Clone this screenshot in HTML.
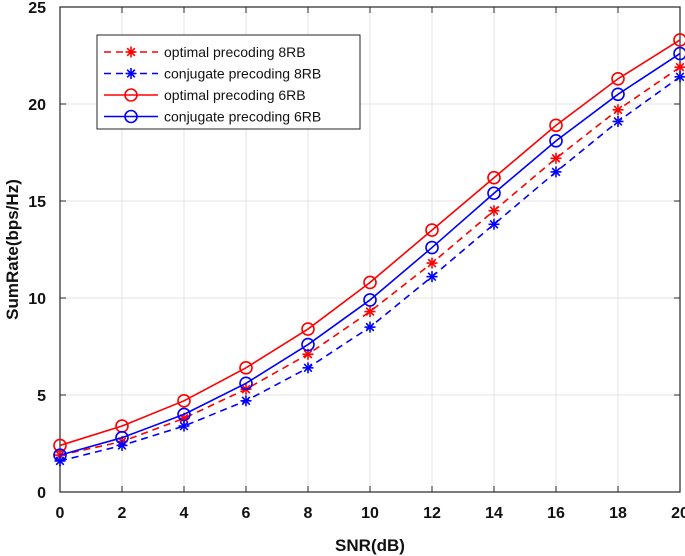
<!DOCTYPE html>
<html><head><meta charset="utf-8"><style>
body{margin:0;background:#fff;}
svg{display:block;font-family:"Liberation Sans",Arial,sans-serif;}
</style></head><body>
<svg id="chart" width="685" height="556"></svg>
<script>
const snr=[0,2,4,6,8,10,12,14,16,18,20];
const opt8=[1.9,2.6,3.8,5.3,7.1,9.3,11.8,14.5,17.2,19.7,21.9];
const conj8=[1.6,2.4,3.4,4.7,6.4,8.5,11.1,13.8,16.5,19.1,21.4];
const opt6=[2.4,3.4,4.7,6.4,8.4,10.8,13.5,16.2,18.9,21.3,23.3];
const conj6=[1.9,2.8,4.0,5.6,7.6,9.9,12.6,15.4,18.1,20.5,22.6];
const xTicks=[0,2,4,6,8,10,12,14,16,18,20];
const yTicks=[0,5,10,15,20,25];
const legendLabels=["optimal precoding 8RB","conjugate precoding 8RB","optimal precoding 6RB","conjugate precoding 6RB"];

const L=60,R=680,T=7,B=492;
const sx=v=>L+(v-0)/(20-0)*(R-L);
const sy=v=>B-(v-0)/(25-0)*(B-T);
const svg=document.getElementById('chart');
const NS='http://www.w3.org/2000/svg';
function mk(tag,attrs,parent){const e=document.createElementNS(NS,tag);for(const k in attrs)e.setAttribute(k,attrs[k]);(parent||svg).appendChild(e);return e;}

// grid
xTicks.forEach(v=>{const g=mk('line',{x1:sx(v),x2:sx(v),y1:T,y2:B,stroke:'#e3e3e3','stroke-width':1});

});
yTicks.forEach(v=>{const g=mk('line',{x1:L,x2:R,y1:sy(v),y2:sy(v),stroke:'#e3e3e3','stroke-width':1});

});
const frame=mk('rect',{x:L,y:T,width:R-L,height:B-T,fill:'none',stroke:'#262626','stroke-width':1.2});


// ticks + labels
xTicks.forEach(v=>{mk('line',{x1:sx(v),x2:sx(v),y1:B,y2:B-6,stroke:'#262626'});mk('line',{x1:sx(v),x2:sx(v),y1:T,y2:T+6,stroke:'#262626'});
const t=mk('text',{x:sx(v),y:B+26,'text-anchor':'middle','font-size':16,'font-weight':'bold',fill:'#111'});t.textContent=v;

});
yTicks.forEach(v=>{mk('line',{x1:L,x2:L+6,y1:sy(v),y2:sy(v),stroke:'#262626'});mk('line',{x1:R,x2:R-6,y1:sy(v),y2:sy(v),stroke:'#262626'});
const t=mk('text',{x:L-14,y:sy(v)+6,'text-anchor':'end','font-size':16,'font-weight':'bold',fill:'#111'});t.textContent=v;

});
const xt=mk('text',{x:sx(10),y:551,'text-anchor':'middle','font-size':17,'font-weight':'bold',fill:'#111'});xt.textContent='SNR(dB)';


const yt=mk('text',{x:0,y:0,'text-anchor':'middle','font-size':17,'font-weight':'bold',fill:'#111',transform:`translate(18,${(T+B)/2}) rotate(-90)`});yt.textContent='SumRate(bps/Hz)';



function star(x,y,c,p){const g=mk('g',{stroke:c,'stroke-width':1.6},p);const r=5.5;
[[0,1],[1,0],[0.7,0.7],[0.7,-0.7]].forEach(d=>mk('line',{x1:x-d[0]*r,y1:y-d[1]*r,x2:x+d[0]*r,y2:y+d[1]*r},g));return g;}
function circ(x,y,c,p){return mk('circle',{cx:x,cy:y,r:6,fill:'none',stroke:c,'stroke-width':1.6},p);}
const series=[[opt8,'#ff0000','7,5',star,'series-optimal-8rb'],[conj8,'#0000ff','7,5',star,'series-conjugate-8rb'],[opt6,'#ff0000','',circ,'series-optimal-6rb'],[conj6,'#0000ff','',circ,'series-conjugate-6rb']];
series.forEach(s=>{const g=mk('g',{});


const pts=snr.map((x,i)=>sx(x)+','+sy(s[0][i])).join(' ');
const a={points:pts,fill:'none',stroke:s[1],'stroke-width':1.6};if(s[2])a['stroke-dasharray']=s[2];mk('polyline',a,g);
snr.forEach((x,i)=>{const m=s[3](sx(x),sy(s[0][i]),s[1],g);

});});

// legend
const lg=mk('g',{});


mk('rect',{x:97,y:35,width:263,height:94,fill:'#fff',stroke:'#262626','stroke-width':1},lg);
series.forEach((s,i)=>{const y=52+i*21.5;const e=mk('g',{},lg);


const a={x1:104,x2:158,y1:y,y2:y,stroke:s[1],'stroke-width':1.6};if(s[2])a['stroke-dasharray']=s[2];mk('line',a,e);
s[3](131,y,s[1],e);
const t=mk('text',{x:164,y:y+5,'font-size':14,fill:'#111'},e);t.textContent=legendLabels[i];});
</script>
</body></html>
